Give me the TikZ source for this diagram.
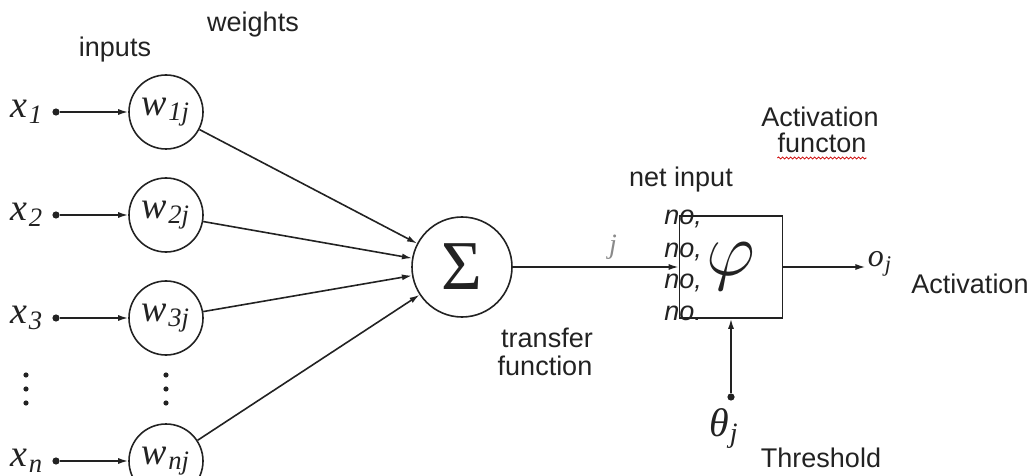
\RequirePackage{fix-cm}
\documentclass[tikz,border=0pt]{standalone}
\usepackage{fontspec}
\setmainfont{Liberation Sans}
\newfontfamily\tms{Liberation Serif}
\usepackage{tikz}
\usetikzlibrary{arrows.meta,decorations.pathmorphing}
\definecolor{cK}{HTML}{222222}
\definecolor{cG}{HTML}{8a8a8a}
\newcommand{\isub}[2]{{\tms\itshape #1\kern.5pt\textsubscript{#2}}}
\tikzset{
  lbl/.style={font=\fontsize{13.5}{16}\selectfont,text=cK,inner sep=0pt},
  mlbl/.style={font=\fontsize{19}{21}\selectfont,text=cK,inner sep=1pt},
  indot/.style={circle,fill=cK,inner sep=0pt,minimum size=3.6pt},
  vdot/.style={circle,fill=cK,inner sep=0pt,minimum size=2.6pt},
  wnode/.style={circle,draw=cK,line width=.8pt,inner sep=0pt,minimum size=37pt,
                font=\fontsize{19}{21}\selectfont,text=cK},
  sumnode/.style={circle,draw=cK,line width=.8pt,inner sep=0pt,minimum size=50pt,
                font=\fontsize{35}{37}\selectfont,text=cK},
  actbox/.style={draw=cK,line width=.8pt,inner sep=0pt,minimum width=51.5pt,
                minimum height=51pt,font=\fontsize{38}{40}\selectfont,text=cK},
  sig/.style={-{Latex[length=5pt,width=3pt]},line width=.8pt,cK},
  squiggle/.style={red!80!black,line width=.4pt,decorate,
                decoration={snake,amplitude=.5pt,segment length=2pt}},
}
\begin{document}
\begin{tikzpicture}[x=0.5pt,y=-0.5pt]
  \useasboundingbox (0,0) rectangle (1035,476);
  \clip (0,0) rectangle (1035,476);
  % inputs and their weights
  \foreach \i/\y in {1/112,2/215,3/318,n/461}{
     \node[mlbl] (x\i) at (27,\y) {\isub{x}{\i}};
     \node[indot] (d\i) at (56,\y) {};
     \node[wnode] (w\i) at (166,\y) {\isub{w}{\i j}};
     \draw[sig] (d\i) -- (w\i);
  }
  \foreach \k/\y in {1/375,2/389,3/403}{
     \node[vdot] (lv\k) at (26,\y) {};
     \node[vdot] (rv\k) at (166,\y) {};
  }
  % summing junction and activation
  \node[sumnode] (sum) at (462,267) {\tms Σ};
  \foreach \i in {1,2,3,n} \draw[sig] (w\i) -- (sum);
  \node[actbox] (act) at (731,267) {$\varphi$};
  \draw[sig] (sum) -- (act);
  \node[text=cG,font=\fontsize{14}{16}\selectfont\tms\itshape,inner sep=0pt] (netj) at (613,247) {j};
  \foreach \t/\y [count=\k] in {{no,}/225,{no,}/257,{no,}/289,{no.}/321}
     \node[lbl,font=\fontsize{13.5}{16}\selectfont\itshape,anchor=base west] (no\k) at (664,\y) {\t};
  \node[mlbl,font=\fontsize{16}{18}\selectfont] (oj) at (880,264) {\isub{o}{j}};
  \draw[sig] (act.east) -- (act.east -| oj.west);
  \node[indot] (th) at (731,397) {};
  \draw[sig] (th) -- (act);
  \node[mlbl,font=\fontsize{20}{22}\selectfont] (thj) at (724,428) {\isub{θ}{j}};
  % captions
  \node[lbl,anchor=base] (lweights) at (253,32) {weights};
  \node[lbl,anchor=base] (linputs) at (115,57) {inputs};
  \node[lbl,anchor=base] (lnet) at (681,187) {net input};
  \node[lbl,anchor=base] (lact) at (820,127) {Activation};
  \node[lbl,anchor=base] (lfct) at (822,153) {functon};
  \draw[squiggle] ([yshift=-2.5pt]lfct.base west) -- ([yshift=-2.5pt]lfct.base east);
  \node[lbl,anchor=base] (lout) at (970,293) {Activation};
  \node[lbl,anchor=base] (lthr) at (821,467) {Threshold};
  \node[lbl,anchor=base] (ltr1) at (547,347) {transfer};
  \node[lbl,anchor=base] (ltr2) at (545,375) {function};
\end{tikzpicture}
\end{document}
